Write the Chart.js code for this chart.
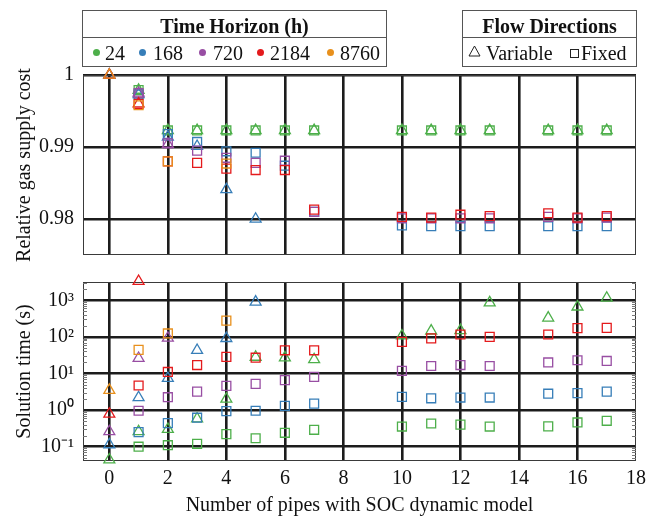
<!DOCTYPE html>
<html>
<head>
<meta charset="utf-8">
<script src="https://cdn.jsdelivr.net/npm/chart.js@4.4.1/dist/chart.umd.min.js"></script>
<style>
    body { margin: 0; background: #fff; }
    #wrap { position: relative; width: 660px; height: 518px; font-family: 'Liberation Serif', 'Times New Roman', serif; color: #111; }
    #wrap canvas { position: absolute; left: 0; top: 0; }
    .box { position: absolute; border: 1px solid #555; box-sizing: border-box; }
    .rule { position: absolute; height: 1px; background: #555; }
    .lbl { position: absolute; font-size: 20px; line-height: 24px; white-space: nowrap; }
    .head { font-weight: bold; text-align: center; }
    .dot { position: absolute; width: 7px; height: 7px; border-radius: 50%; }
    svg { position: absolute; }
</style>
</head>
<body>
<div id="wrap">
    <canvas id="costChart" width="660" height="518"></canvas>
    <canvas id="timeChart" width="660" height="518"></canvas>

    <div class="box" style="left:82px; top:10px; width:305px; height:57px;"></div>
    <div class="rule" style="left:82px; top:37px; width:305px;"></div>
    <div class="lbl head" style="left:82px; top:14px; width:305px;">Time Horizon (h)</div>
    <div id="horizonLegend"></div>

    <div class="box" style="left:462px; top:10px; width:175px; height:57px;"></div>
    <div class="rule" style="left:462px; top:37px; width:175px;"></div>
    <div class="lbl head" style="left:462px; top:14px; width:175px;">Flow Directions</div>
    <svg style="left:468px; top:45px;" width="13" height="12"><polygon points="6.5,1 12,11 1,11" fill="none" stroke="#222" stroke-width="1"/></svg>
    <div class="lbl" style="left:486px; top:41px;">Variable</div>
    <svg style="left:569px; top:48px;" width="11" height="11"><rect x="1.5" y="1.5" width="8" height="8" fill="none" stroke="#222" stroke-width="1"/></svg>
    <div class="lbl" style="left:581px; top:41px;">Fixed</div>
</div>
<script>
var pipeCounts = [0, 1, 2, 3, 4, 5, 6, 7, 10, 11, 12, 13, 15, 16, 17];
var horizonLabels = ['24', '168', '720', '2184', '8760'];
var horizonColors = ['#4daf4a', '#377eb8', '#984ea3', '#e41a1c', '#e8901c'];

// relative gas supply cost, one value per pipe count (null = no result)
var costVariable24 = [1, 0.9979, 0.9923, 0.9923, 0.9923, 0.9923, 0.9923, 0.9923, 0.9923, 0.9923, 0.9923, 0.9923, 0.9923, 0.9923, 0.9923];
var costVariable168 = [1, 0.9973, 0.9914, 0.9901, 0.9841, 0.9800];
var costVariable720 = [1, 0.9975, 0.9904];
var costVariable2184 = [1, 0.9960];
var costVariable8760 = [1];
var costFixed24 = [null, 0.9979, 0.9923, 0.9923, 0.9923, 0.9923, 0.9923, 0.9923, 0.9923, 0.9923, 0.9923, 0.9923, 0.9923, 0.9923, 0.9923];
var costFixed168 = [null, 0.9973, 0.9918, 0.9907, 0.9894, 0.9892, 0.9874, 0.9810, 0.9791, 0.9790, 0.9790, 0.9790, 0.9790, 0.9790, 0.9790];
var costFixed720 = [null, 0.9975, 0.9905, 0.9895, 0.9885, 0.9878, 0.9881, 0.9810, 0.9801, 0.9801, 0.9801, 0.9801, 0.9803, 0.9801, 0.9802];
var costFixed2184 = [null, 0.9960, 0.9880, 0.9878, 0.9870, 0.9868, 0.9868, 0.9813, 0.9803, 0.9802, 0.9806, 0.9804, 0.9808, 0.9802, 0.9804];
var costFixed8760 = [null, 0.9958, 0.9880, null, 0.9877];

// solution time in seconds
var timeVariable24 = [0.044, 0.26, 0.30, 0.58, 2.0, 28, 27, 24, 107, 146, 150, 860, 330, 660, 1150];
var timeVariable168 = [0.114, 2.2, 7.4, 43, 91, 900];
var timeVariable720 = [0.26, 26, 93];
var timeVariable2184 = [0.78, 3300];
var timeVariable8760 = [3.5];
var timeFixed24 = [null, 0.10, 0.11, 0.12, 0.22, 0.17, 0.24, 0.29, 0.355, 0.43, 0.40, 0.355, 0.36, 0.46, 0.51];
var timeFixed168 = [null, 0.25, 0.44, 0.62, 0.94, 0.96, 1.3, 1.5, 2.3, 2.1, 2.2, 2.2, 2.8, 2.9, 3.2];
var timeFixed720 = [null, 0.96, 2.25, 3.2, 4.6, 5.2, 6.6, 8.1, 11.8, 16, 17, 16, 20, 23, 22];
var timeFixed2184 = [null, 4.7, 11, 17, 28.5, 27, 43, 43, 73, 91, 116, 100, 116, 173, 176];
var timeFixed8760 = [null, 44, 124, null, 277];

var xTickValues = [0, 2, 4, 6, 8, 10, 12, 14, 16, 18];
var costTickValues = [0.98, 0.99, 1];
var costTickLabels = ['0.98', '0.99', '1'];
var timeTickValues = [0.1, 1, 10, 100, 1000];
var timeTickLabels = ['10\u207B\u00B9', '10\u2070', '10\u00B9', '10\u00B2', '10\u00B3'];

var serif = "'Liberation Serif', 'Times New Roman', serif";
var gridColor = '#1c1c1c';

function toPoints(values) {
    var pts = [];
    for (var i = 0; i < values.length; i++) {
        if (values[i] !== null) pts.push({x: pipeCounts[i], y: values[i]});
    }
    return pts;
}

function makeDatasets(variableSets, fixedSets) {
    var sets = [];
    for (var h = 0; h < horizonLabels.length; h++) {
        var styles = [['rect', fixedSets[h], 'Fixed'], ['triangle', variableSets[h], 'Variable']];
        for (var s = 0; s < styles.length; s++) {
            sets.push({
                label: horizonLabels[h] + ' ' + styles[s][2],
                data: toPoints(styles[s][1]),
                pointStyle: styles[s][0],
                pointRadius: 6.3,
                pointBorderWidth: 1.3,
                borderColor: horizonColors[h],
                backgroundColor: 'rgba(0,0,0,0)',
                clip: false
            });
        }
    }
    // chart.js paints the first dataset last, so 8760 triangles end up on top
    return sets.reverse();
}

var framePlugin = {
    id: 'frame',
    beforeDatasetsDraw: function (chart) {
        var a = chart.chartArea, ctx = chart.ctx;
        ctx.save();
        ctx.strokeStyle = '#3a3a3a';
        ctx.lineWidth = 1;
        ctx.strokeRect(a.left + 0.5, a.top + 0.5, a.right - a.left - 1, a.bottom - a.top - 1);
        ctx.restore();
    }
};

var minorTickPlugin = {
    id: 'minorTicks',
    beforeDatasetsDraw: function (chart) {
        var a = chart.chartArea, ctx = chart.ctx, y = chart.scales.y;
        ctx.save();
        ctx.strokeStyle = '#777';
        ctx.lineWidth = 1;
        ctx.beginPath();
        for (var k = -2; k <= 3; k++) {
            for (var d = 2; d <= 9; d++) {
                var v = d * Math.pow(10, k);
                if (v < y.min || v > y.max) continue;
                var py = Math.round(y.getPixelForValue(v)) + 0.5;
                ctx.moveTo(a.left, py); ctx.lineTo(a.left + 4, py);
                ctx.moveTo(a.right - 4, py); ctx.lineTo(a.right, py);
            }
        }
        ctx.stroke();
        ctx.restore();
    }
};

function xScale(withLabels) {
    return {
        type: 'linear', min: -0.9, max: 18,
        afterBuildTicks: function (scale) {
            scale.ticks = xTickValues.map(function (v) { return {value: v}; });
        },
        afterFit: function (scale) { scale.height = withLabels ? 57 : 0; },
        ticks: {
            display: withLabels, padding: 6, color: '#111',
            font: {family: serif, size: 20},
            callback: function (v, i) { return String(xTickValues[i]); }
        },
        grid: {
            drawTicks: false, lineWidth: 2.6,
            color: function (c) { return c.tick && c.tick.value === 18 ? 'rgba(0,0,0,0)' : gridColor; }
        },
        border: {display: false},
        title: {
            display: withLabels, text: 'Number of pipes with SOC dynamic model', color: '#111',
            font: {family: serif, size: 20}, padding: {top: 0, bottom: 0}
        }
    };
}

function yScale(type, min, max, values, labels, title) {
    return {
        type: type, min: min, max: max,
        afterBuildTicks: function (scale) {
            scale.ticks = values.map(function (v) { return {value: v}; });
        },
        afterFit: function (scale) { scale.width = 83; },
        ticks: {
            padding: 9, color: '#111',
            font: {family: serif, size: 20},
            callback: function (v, i) { return labels[i]; }
        },
        grid: {drawTicks: false, lineWidth: 2.6, color: gridColor},
        border: {display: false},
        title: {
            display: true, text: title, color: '#111',
            font: {family: serif, size: 20}, padding: {top: 13, bottom: 0}
        }
    };
}

function baseOptions(padding, x, y) {
    return {
        responsive: false,
        animation: false,
        events: [],
        layout: {padding: padding},
        plugins: {legend: {display: false}, tooltip: {enabled: false}},
        scales: {x: x, y: y}
    };
}

var oCostChart = new Chart(document.getElementById('costChart'), {
    type: 'scatter',
    data: {
        datasets: makeDatasets(
            [costVariable24, costVariable168, costVariable720, costVariable2184, costVariable8760],
            [costFixed24, costFixed168, costFixed720, costFixed2184, costFixed8760])
    },
    options: baseOptions({top: 75, bottom: 263, left: 0, right: 24},
        xScale(false),
        yScale('linear', 0.975, 1.0, costTickValues, costTickLabels, 'Relative gas supply cost')),
    plugins: [framePlugin]
});

var oTimeChart = new Chart(document.getElementById('timeChart'), {
    type: 'scatter',
    data: {
        datasets: makeDatasets(
            [timeVariable24, timeVariable168, timeVariable720, timeVariable2184, timeVariable8760],
            [timeFixed24, timeFixed168, timeFixed720, timeFixed2184, timeFixed8760])
    },
    options: baseOptions({top: 282, bottom: 0, left: 0, right: 24},
        xScale(true),
        yScale('logarithmic', 0.0407, 3152, timeTickValues, timeTickLabels, 'Solution time (s)')),
    plugins: [framePlugin, minorTickPlugin]
});

// horizon legend row
var dotX = [96, 142.7, 202, 260, 330.7];
var textX = [105, 153, 213, 270, 340];
var legendEl = document.getElementById('horizonLegend');
for (var i = 0; i < horizonLabels.length; i++) {
    var dot = document.createElement('div');
    dot.className = 'dot';
    dot.style.left = (dotX[i] - 3.5) + 'px';
    dot.style.top = (52.7 - 3.5) + 'px';
    dot.style.background = horizonColors[i];
    legendEl.appendChild(dot);
    var txt = document.createElement('div');
    txt.className = 'lbl';
    txt.style.left = textX[i] + 'px';
    txt.style.top = '41px';
    txt.textContent = horizonLabels[i];
    legendEl.appendChild(txt);
}
</script>
</body>
</html>
